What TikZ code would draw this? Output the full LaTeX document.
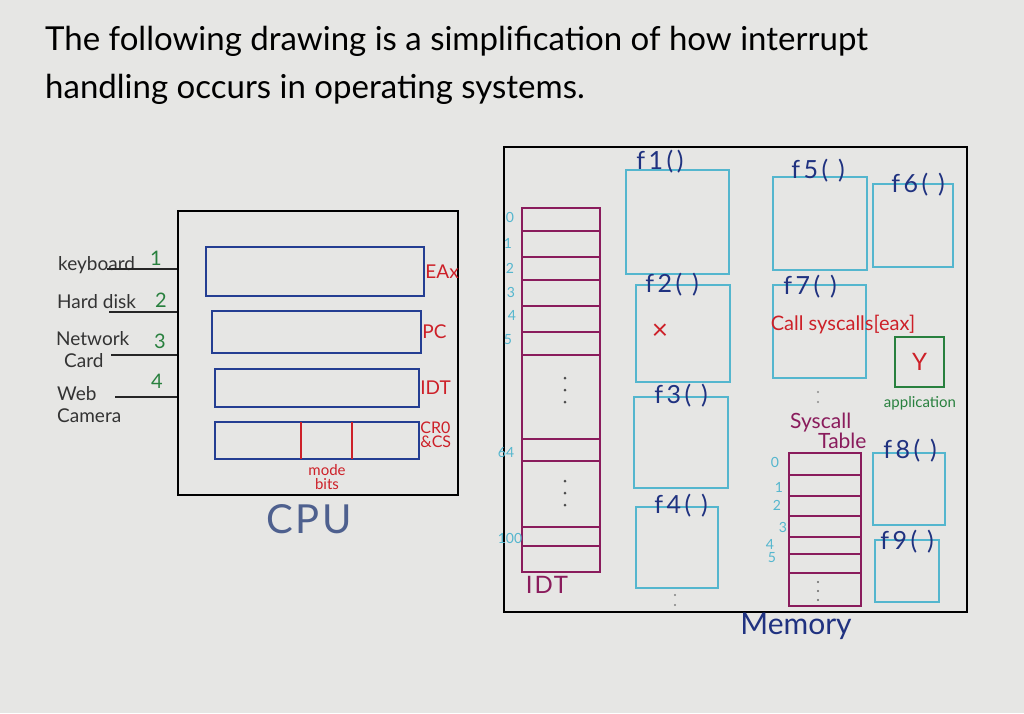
\documentclass[tikz,border=0pt]{standalone}
\usepackage{fontspec}
\setmainfont{Lato}
\usetikzlibrary{positioning}
\definecolor{PaperGray}{RGB}{230,230,228}
\definecolor{RegBlue}{RGB}{36,62,146}
\definecolor{RedInk}{RGB}{205,32,40}
\definecolor{GreenInk}{RGB}{40,128,62}
\definecolor{PurpleInk}{RGB}{138,28,92}
\definecolor{CyanInk}{RGB}{84,182,206}
\definecolor{NavyInk}{RGB}{32,50,128}
\definecolor{CpuBlue}{RGB}{78,96,142}

\begin{document}
\begin{tikzpicture}[
  x=1pt, y=-1pt,
  font=\fontsize{19}{22}\selectfont,
  outline/.style={draw=black, line width=2pt, inner sep=0pt},
  regbox/.style={draw=RegBlue, line width=2.4pt, inner sep=0pt},
  fbox/.style={draw=CyanInk, line width=1.4pt, inner sep=0pt},
  tablebox/.style={draw=PurpleInk, line width=1.6pt, inner sep=0pt},
  flabel/.style={text=NavyInk, font=\fontsize{25}{25}\selectfont\addfontfeature{LetterSpace=14}, inner sep=0pt},
  reglabel/.style={text=RedInk, anchor=west, inner sep=0pt, font=\fontsize{19}{15}\selectfont},
  devlabel/.style={anchor=base west, inner sep=0pt, text=black!80},
  irqnum/.style={text=GreenInk, font=\fontsize{20}{20}\selectfont, inner sep=0pt},
  idx/.style={text=CyanInk, font=\fontsize{14}{14}\selectfont, inner sep=0pt},
  devline/.style={line width=1.6pt, black!85},
]

% paper
\fill[PaperGray] (0,0) rectangle (1024,713);
\useasboundingbox (0,0) rectangle (1024,713);

% title
\node[anchor=base west, inner sep=0pt, font=\fontsize{33}{33}\selectfont] (title)
  at (45,50) {The following drawing is a simplification of how interrupt};
\node[anchor=base west, inner sep=0pt, font=\fontsize{33}{33}\selectfont] (titlecont)
  at (45,98) {handling occurs in operating systems.};

% CPU
\node[outline, minimum width=280, minimum height=284] (cpu) at (318,353) {};
\node[regbox, minimum width=218, minimum height=49] (eax) at (315,271.5) {};
\node[regbox, minimum width=209, minimum height=42] (pc) at (316.5,332) {};
\node[regbox, minimum width=204, minimum height=38] (idtr) at (317,388) {};
\node[regbox, minimum width=204, minimum height=37] (cr0) at (317,440.5) {};
\draw[RedInk, line width=1.6pt] (301,422) -- (301,459) (352,422) -- (352,459);
\node[reglabel] (eaxname) at (eax.east) {EAx};
\node[reglabel] (pcname) at (pc.east) {PC};
\node[reglabel] (idtrname) at (idtr.east) {IDT};
\node[reglabel, align=left, font=\fontsize{16}{14}\selectfont] (cr0name) at ([yshift=6]cr0.east) {CR0\\\&CS};
\node[text=RedInk, align=center, font=\fontsize{15}{14}\selectfont] (modebits) at (327,477) {mode\\bits};
\node[text=CpuBlue, font=\fontsize{40}{40}\selectfont\addfontfeature{LetterSpace=6}] (cpuname) at (309,519) {CPU};

% devices
\node[devlabel] (kbd) at (58,270) {keyboard};
\node[devlabel] (hdd) at (57,308) {Hard disk};
\node[devlabel, align=left, anchor=north west] (nic) at (56,331) {Network\\\hspace*{8pt}Card};
\node[devlabel, align=left, anchor=north west] (cam) at (57,386) {Web\\Camera};
\node[irqnum] (irq1) at (156,258) {1};
\node[irqnum] (irq2) at (161,300) {2};
\node[irqnum] (irq3) at (160,341) {3};
\node[irqnum] (irq4) at (157,381) {4};
\coordinate (kbdend) at (107,269);
\coordinate (hddend) at (109,312);
\coordinate (nicend) at (111,355);
\coordinate (camend) at (115,397);
\draw[devline] (kbdend) -- (kbdend -| cpu.west);
\draw[devline] (hddend) -- (hddend -| cpu.west);
\draw[devline] (nicend) -- (nicend -| cpu.west);
\draw[devline] (camend) -- (camend -| cpu.west);

% memory
\node[outline, minimum width=463, minimum height=465] (mem) at (735.5,379.5) {};
\node[text=NavyInk, font=\fontsize{30}{30}\selectfont] (memname) at (796,626) {Memory};

% IDT table
\node[tablebox, minimum width=78, minimum height=364] (idt) at (561,390) {};
\foreach \y in {231,257,280,306,332,355,439,461,527,546}
  \draw[PurpleInk, line width=1.4pt] (522,\y) -- (600,\y);
\foreach \y in {378,390,402,481,493,505}
  \fill[black!70] (565,\y) circle (1.5);
\foreach \i/\x/\y in {0/510/217,1/508/243,2/510/268,3/511/292,4/512/315,5/508/340,64/506/453,100/510/538}
  \node[idx] (idtn\i) at (\x,\y) {\i};
\node[text=PurpleInk, font=\fontsize{24}{24}\selectfont\addfontfeature{LetterSpace=8}] (idtname) at (547,585) {IDT};

% handlers f1 - f4
\node[fbox, minimum width=103, minimum height=104] (f1) at (677.5,222) {};
\node[fbox, minimum width=94, minimum height=97] (f2) at (683,333.5) {};
\node[fbox, minimum width=94, minimum height=91] (f3) at (681,442.5) {};
\node[fbox, minimum width=82, minimum height=81] (f4) at (677,547.5) {};
\node[flabel] (f1name) at (660,162) {f1()};
\node[flabel] (f2name) at (672,285) {f2( )};
\node[flabel] (f3name) at (681,396) {f3( )};
\node[flabel] (f4name) at (681,506) {f4( )};
\node[text=RedInk, font=\fontsize{28}{28}\selectfont] (f2x) at (660,332) {×};
\foreach \y in {595,605}
  \fill[black!50] (675,\y) circle (1.2);

% handlers f5 - f7
\node[fbox, minimum width=94, minimum height=93] (f5) at (820,223.5) {};
\node[fbox, minimum width=80, minimum height=83] (f6) at (913,225.5) {};
\node[fbox, minimum width=93, minimum height=93] (f7) at (819.5,331.5) {};
\node[flabel] (f5name) at (818,171) {f5( )};
\node[flabel] (f6name) at (918,185) {f6( )};
\node[flabel] (f7name) at (810,287) {f7( )};
\node[text=RedInk, font=\fontsize{20}{20}\selectfont] (callsys) at (843,325) {Call syscalls[eax]};
\foreach \y in {392,402}
  \fill[black!45] (818,\y) circle (1.2);

% application
\node[draw=GreenInk, line width=1.4pt, minimum width=49, minimum height=50, inner sep=0pt] (app) at (919.5,362) {};
\node[text=RedInk, font=\fontsize{24}{24}\selectfont] (appy) at (app.center) {Y};
\node[text=GreenInk, font=\fontsize{15}{15}\selectfont] (appname) at (920,403) {application};

% syscall table
\node[text=PurpleInk, align=left, anchor=north west, font=\fontsize{21}{19}\selectfont, inner sep=0pt] (sysname)
  at (790,413) {Syscall\\\hspace*{28pt}Table};
\node[tablebox, minimum width=72, minimum height=153] (syscalls) at (825,529.5) {};
\foreach \y in {475,496,516,537,554,573}
  \draw[PurpleInk, line width=1.4pt] (789,\y) -- (861,\y);
\foreach \y in {582,591,600}
  \fill[black!60] (818,\y) circle (1.2);
\foreach \i/\x/\y in {0/775/462,1/779/487,2/777/505,3/783/527,4/770/544,5/772/558}
  \node[idx] (sysn\i) at (\x,\y) {\i};

% handlers f8 - f9
\node[fbox, minimum width=72, minimum height=72] (f8) at (909,489) {};
\node[fbox, minimum width=64, minimum height=62] (f9) at (907,571) {};
\node[flabel] (f8name) at (910,451) {f8( )};
\node[flabel] (f9name) at (907,542) {f9( )};

\end{tikzpicture}
\end{document}
